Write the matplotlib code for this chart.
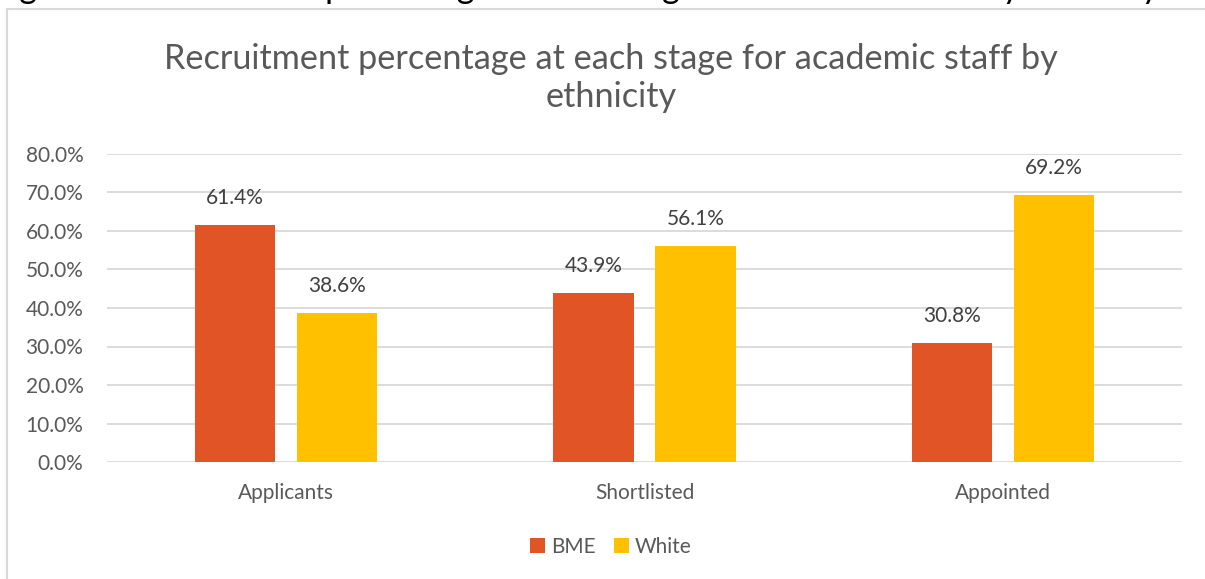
import matplotlib
matplotlib.use('Agg')
import matplotlib.pyplot as plt
from matplotlib.ticker import PercentFormatter
from matplotlib.patches import Rectangle
import numpy as np

# datos del grafico
stages = ['Applicants', 'Shortlisted', 'Appointed']
bme = [61.4, 43.9, 30.8]
white = [38.6, 56.1, 69.2]
series_names = ['BME', 'White']
colors = ['#E05426', '#FFC000']

title = 'Recruitment percentage at each stage for academic staff by\nethnicity'
caption = 'Figure 5: Recruitment percentage at each stage for academic staff by ethnicity'

plt.rcParams['font.family'] = ['Lato', 'DejaVu Sans']
gris = '#595959'

W, H = 1205, 579
fig = plt.figure(figsize=(W/100, H/100), dpi=100)

# marco del grafico (se sale por la derecha y abajo)
fig.patches.append(Rectangle((7/W, -0.1), 1.2, 1 - 9/H + 0.1, transform=fig.transFigure,
                             fill=False, edgecolor='#D9D9D9', linewidth=1.5))

# texto de la leyenda del documento, cortado arriba (solo se ven los descendentes)
fig.text(-8/W, 1 + 1.5/H, caption, ha='left', va='baseline', fontsize=24.5, color='black')

ax = fig.add_axes([107/W, 1 - 462.3/H, (1182-107)/W, (462.3-153.5)/H])

x = np.arange(len(stages))
bw = 0.2244
off = bw/2 + 0.030
b1 = ax.bar(x - off, bme, bw, color=colors[0], label=series_names[0], zorder=3)
b2 = ax.bar(x + off, white, bw, color=colors[1], label=series_names[1], zorder=3)

for bars in (b1, b2):
    for r in bars:
        v = r.get_height()
        ax.annotate(f'{v:.1f}%', (r.get_x() + r.get_width()/2, v), xytext=(0, 17),
                    textcoords='offset pixels', ha='center', va='bottom',
                    fontsize=15, color='#404040')

ax.set_xlim(-0.5, 2.5)
ax.set_ylim(0, 80)
ax.set_yticks(np.arange(0, 81, 10))
ax.yaxis.set_major_formatter(PercentFormatter(decimals=1))
ax.set_xticks(x)
ax.set_xticklabels(stages)
ax.grid(axis='y', color='#D9D9D9', linewidth=1.3, zorder=0)
for s in ax.spines.values():
    s.set_visible(False)
ax.tick_params(axis='both', length=0, labelsize=15, labelcolor=gris)
ax.tick_params(axis='y', pad=17)
ax.tick_params(axis='x', pad=15)

fig.text(611/W, 1 - 78/H, title, ha='center', va='center', fontsize=24.7,
         color=gris, linespacing=1.25)

leg = fig.legend(handles=[b1, b2], labels=series_names, loc='center',
                 bbox_to_anchor=(611/W, 1 - 547/H), ncol=2, frameon=False,
                 handlelength=0.7, handleheight=0.7, handletextpad=0.3,
                 columnspacing=0.9, fontsize=15)
for t in leg.get_texts():
    t.set_color(gris)

fig.savefig('out.png', dpi=100)
